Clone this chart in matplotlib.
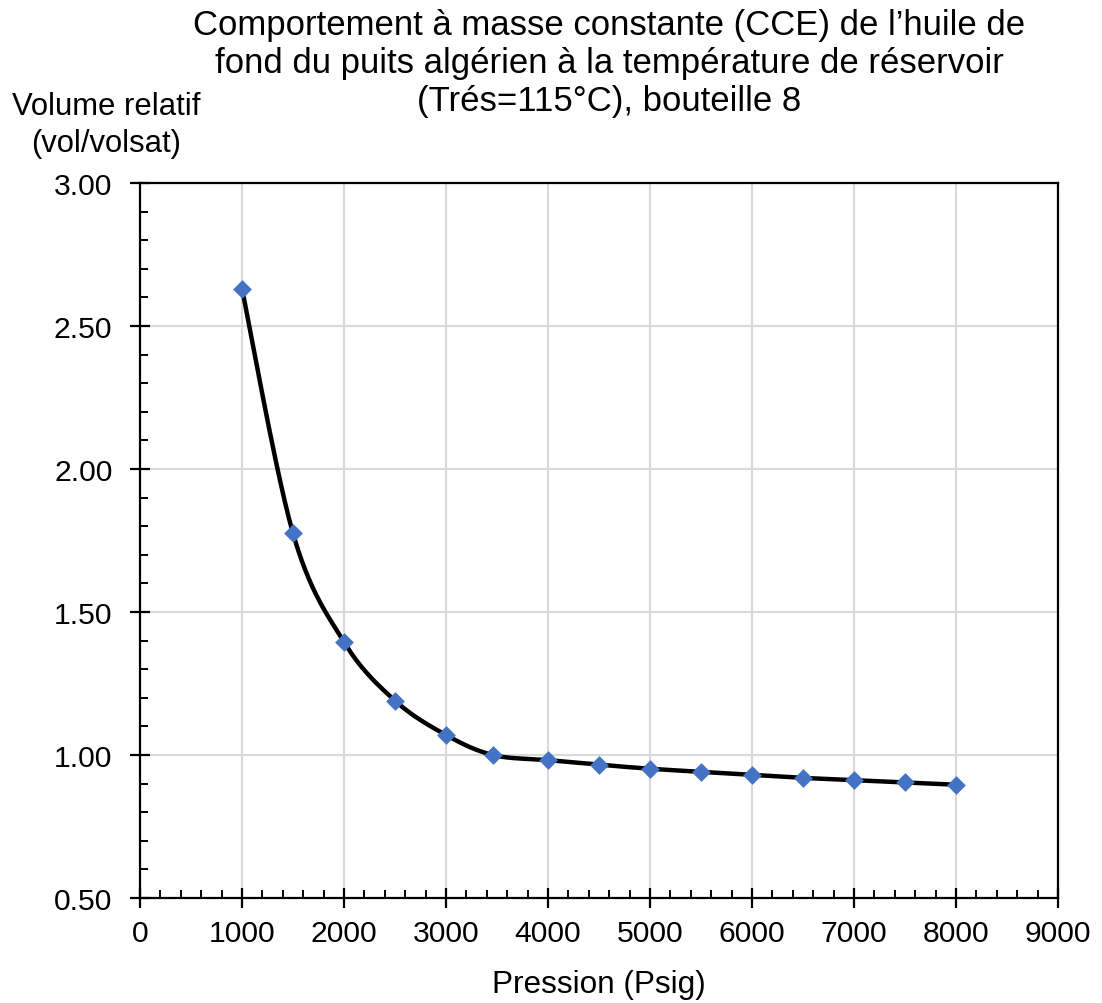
import numpy as np
import matplotlib
matplotlib.use("Agg")
import matplotlib.pyplot as plt
from matplotlib.path import Path
from matplotlib.ticker import MultipleLocator, FormatStrFormatter

plt.rcParams['font.family'] = ['Liberation Sans', 'DejaVu Sans']

# CCE measurements
pression = [1000, 1500, 2000, 2500, 3000, 3460, 4000, 4500, 5000, 5500, 6000, 6500, 7000, 7500, 8000]
volume_relatif = [2.63, 1.775, 1.395, 1.19, 1.07, 1.00, 0.982, 0.966, 0.952, 0.941, 0.930, 0.920, 0.912, 0.904, 0.896]

x_ticks = [0, 1000, 2000, 3000, 4000, 5000, 6000, 7000, 8000, 9000]
y_ticks = [0.50, 1.00, 1.50, 2.00, 2.50, 3.00]

titre = ["Comportement à masse constante (CCE) de l\u2019huile de",
         "fond du puits algérien à la température de réservoir",
         "(Trés=115°C), bouteille 8"]
label_y = ["Volume relatif", "(vol/volsat)"]
label_x = "Pression (Psig)"

W, H = 1102, 1004
fig = plt.figure(figsize=(W / 100, H / 100), dpi=100)
ax = fig.add_axes([140 / W, 1 - 899 / H, 918 / W, 715 / H])

xmin, xmax, ymin, ymax = 0, 9000, 0.5, 3.0


def smooth_curve(xs, ys, n=40):
    """Catmull-Rom style Bezier smoothing computed in normalised axes space."""
    px = (np.asarray(xs, float) - xmin) / (xmax - xmin) * 918
    py = (np.asarray(ys, float) - ymin) / (ymax - ymin) * 715
    pts = np.column_stack([px, py])
    out = []
    t = np.linspace(0, 1, n)
    for i in range(len(pts) - 1):
        p0 = pts[i - 1] if i > 0 else pts[i]
        p1 = pts[i]
        p2 = pts[i + 1]
        p3 = pts[i + 2] if i + 2 < len(pts) else pts[i + 1]
        c1 = p1 + (p2 - p0) / 6
        c2 = p2 - (p3 - p1) / 6
        seg = ((1 - t) ** 3)[:, None] * p1 + (3 * (1 - t) ** 2 * t)[:, None] * c1 \
            + (3 * (1 - t) * t ** 2)[:, None] * c2 + (t ** 3)[:, None] * p2
        out.append(seg if i == 0 else seg[1:])
    out = np.vstack(out)
    return out[:, 0] / 918 * (xmax - xmin) + xmin, out[:, 1] / 715 * (ymax - ymin) + ymin


# diamond marker
losange = Path([(0, 1), (1, 0), (0, -1), (-1, 0), (0, 1)],
               [Path.MOVETO, Path.LINETO, Path.LINETO, Path.LINETO, Path.CLOSEPOLY])

sx, sy = smooth_curve(pression, volume_relatif)
ax.plot(sx, sy, color='black', lw=3.2, zorder=3, solid_capstyle='round')
ax.plot(pression, volume_relatif, linestyle='none', marker=losange, markersize=13.5,
        color='#4472C4', markeredgewidth=0, zorder=4)

ax.set_xlim(xmin, xmax)
ax.set_ylim(ymin, ymax)
ax.set_xticks(x_ticks)
ax.set_yticks(y_ticks)
ax.yaxis.set_major_formatter(FormatStrFormatter('%.2f'))
ax.xaxis.set_minor_locator(MultipleLocator(200))
ax.yaxis.set_minor_locator(MultipleLocator(0.1))

ax.grid(True, which='major', color='#D9D9D9', lw=1.5, zorder=0)
ax.set_axisbelow(True)
for s in ax.spines.values():
    s.set_color('black')
    s.set_linewidth(1.6)

ax.tick_params(which='major', direction='inout', length=13.7, width=1.6, labelsize=21.7, colors='black')
ax.tick_params(axis='x', which='major', pad=8)
ax.tick_params(axis='y', which='major', pad=13)
ax.tick_params(which='minor', direction='in', length=5.8, width=1.4, colors='black')
ax.tick_params(axis='x', which='both', top=False)
ax.tick_params(axis='y', which='both', right=False)

# title lines placed on their baselines
for ligne, base in zip(titre, [35, 73, 111]):
    fig.text(609 / W, 1 - base / H, ligne, ha='center', va='baseline', fontsize=25)

for ligne, base in zip(label_y, [115, 152]):
    fig.text(106 / W, 1 - base / H, ligne, ha='center', va='baseline', fontsize=22.3)

fig.text(599 / W, 1 - 993 / H, label_x, ha='center', va='baseline', fontsize=22.7)

fig.savefig('out.png', dpi=100)
